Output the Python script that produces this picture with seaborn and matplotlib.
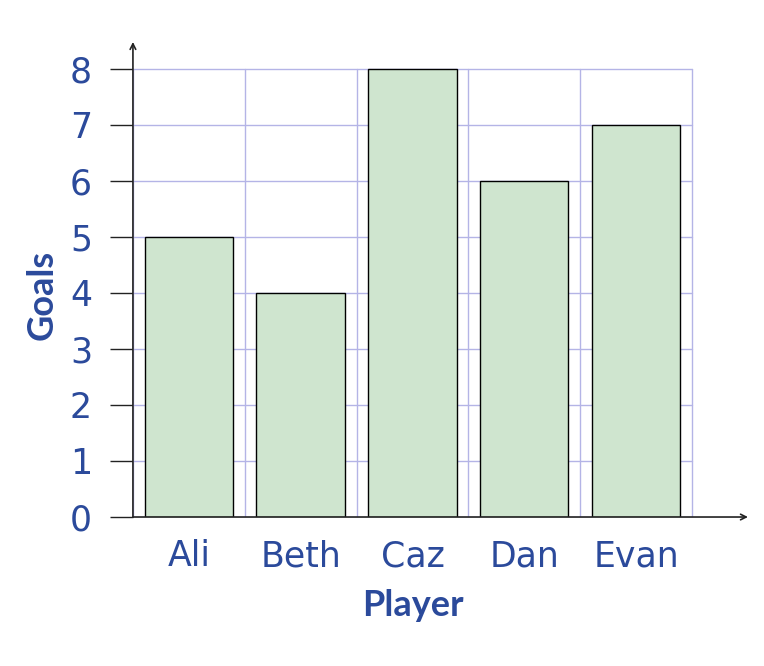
import matplotlib
matplotlib.use("Agg")
import matplotlib.pyplot as plt
import seaborn as sns
import pandas as pd

players = ["Ali", "Beth", "Caz", "Dan", "Evan"]
goals = [5, 4, 8, 6, 7]
yticks = [0, 1, 2, 3, 4, 5, 6, 7, 8]

sns.set_style("white")
plt.rcParams['font.family'] = ['DejaVu Sans']

text_c = "#2b4a9b"
grid_c = "#b4b4e6"

fig = plt.figure(figsize=(7.64, 6.66), dpi=100)
ax = fig.add_axes([0.174, 0.2237, 0.979 - 0.174, 0.937 - 0.2237])

df = pd.DataFrame({"Player": players, "Goals": goals})
sns.barplot(data=df, x="Player", y="Goals", color="#cfe5cf", saturation=1,
            edgecolor="black", linewidth=1.0, width=0.79, ax=ax, zorder=3)

n = len(players)
ax.set_xlim(-0.5, n - 0.5 + 0.5)
ax.set_ylim(0, 8.48)

# grid
for y in yticks:
    ax.plot([-0.5, n - 0.5], [y, y], color=grid_c, lw=1.0, zorder=1)
for i in range(n + 1):
    ax.plot([i - 0.5, i - 0.5], [0, max(yticks)], color=grid_c, lw=1.0, zorder=1)

for s in ax.spines.values():
    s.set_visible(False)

# axes with arrows
ax.annotate("", xy=(n, 0), xytext=(-0.5, 0),
            arrowprops=dict(arrowstyle="->", color="#222222", lw=1.2, shrinkA=0, shrinkB=0),
            annotation_clip=False, zorder=5)
ax.annotate("", xy=(-0.5, 8.48), xytext=(-0.5, 0),
            arrowprops=dict(arrowstyle="->", color="#222222", lw=1.2, shrinkA=0, shrinkB=0),
            annotation_clip=False, zorder=5)

ax.set_yticks(yticks)
ax.set_yticklabels([str(v) for v in yticks])
ax.tick_params(axis="y", direction="out", length=16.5, width=1.0, color="#222222",
               labelsize=25, labelcolor=text_c, pad=13, left=True)
ax.tick_params(axis="x", length=0, labelsize=25, labelcolor=text_c, pad=16, bottom=False)

ax.set_xlabel("Player", fontsize=26, fontweight="bold", color=text_c,
              family=["Lato", "DejaVu Sans"])
ax.set_ylabel("Goals", fontsize=26, fontweight="bold", color=text_c,
              family=["Lato", "DejaVu Sans"])
ax.xaxis.label.set_va("baseline")
ax.xaxis.set_label_coords(0.455, -0.208)
ax.yaxis.label.set_va("center")
ax.yaxis.set_label_coords(-0.148, 0.467)

fig.savefig("out.png", dpi=100)
